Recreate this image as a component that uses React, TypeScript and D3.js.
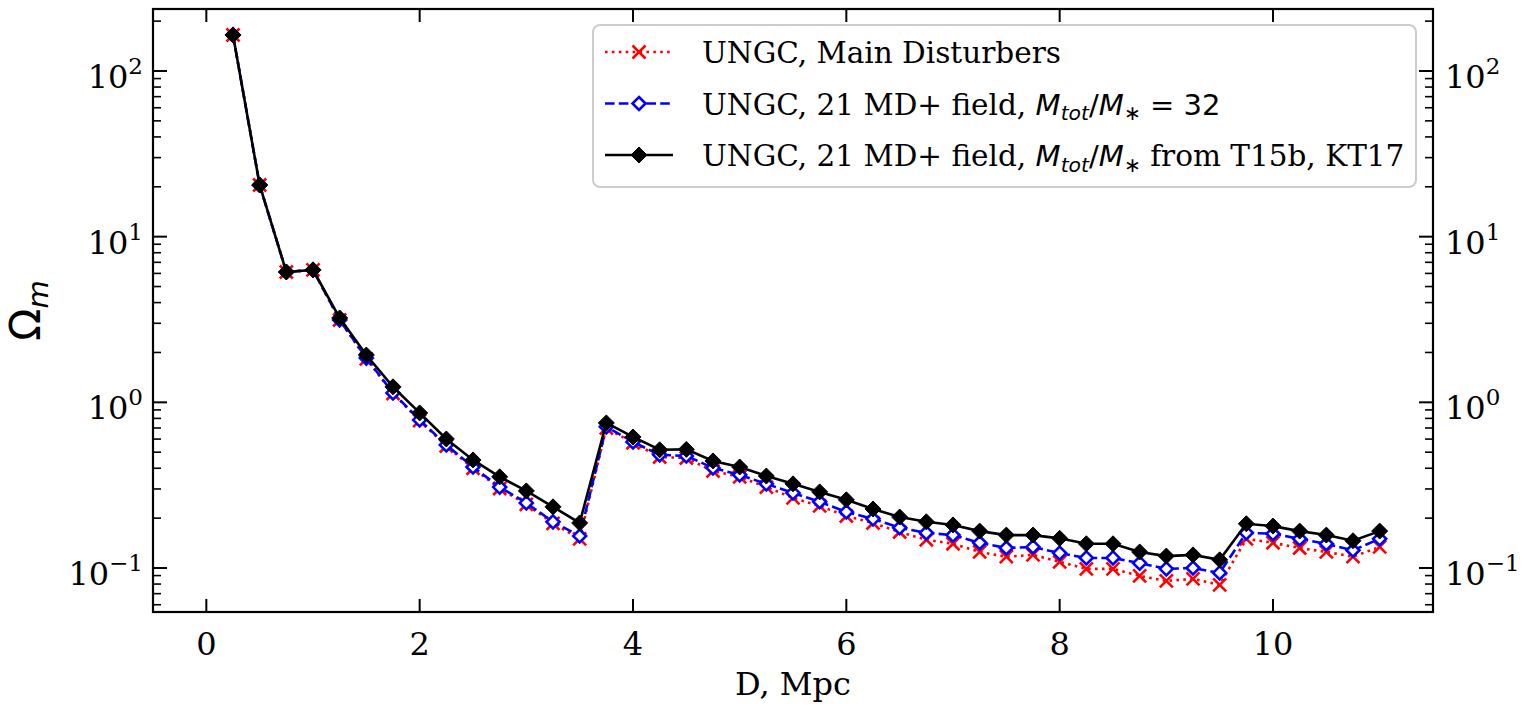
import React from "react";
import * as d3 from "d3";

const D = [0.25, 0.5, 0.75, 1, 1.25, 1.5, 1.75, 2, 2.25, 2.5, 2.75, 3, 3.25, 3.5, 3.75, 4, 4.25, 4.5, 4.75, 5, 5.25, 5.5, 5.75, 6, 6.25, 6.5, 6.75, 7, 7.25, 7.5, 7.75, 8, 8.25, 8.5, 8.75, 9, 9.25, 9.5, 9.75, 10, 10.25, 10.5, 10.75, 11];

const mainDisturbers = [165, 20.5, 6.12, 6.3, 3.14, 1.83, 1.13, 0.775, 0.545, 0.4, 0.302, 0.242, 0.186, 0.15, 0.7, 0.57, 0.468, 0.461, 0.385, 0.355, 0.308, 0.265, 0.237, 0.206, 0.187, 0.165, 0.148, 0.14, 0.125, 0.117, 0.12, 0.109, 0.0988, 0.0988, 0.0896, 0.0836, 0.0859, 0.0791, 0.15, 0.142, 0.132, 0.125, 0.117, 0.134];

const field32 = [165, 20.5, 6.12, 6.3, 3.14, 1.85, 1.14, 0.783, 0.553, 0.407, 0.308, 0.247, 0.19, 0.156, 0.711, 0.577, 0.482, 0.475, 0.402, 0.365, 0.322, 0.284, 0.251, 0.218, 0.198, 0.175, 0.163, 0.158, 0.142, 0.132, 0.134, 0.123, 0.115, 0.115, 0.107, 0.0988, 0.1, 0.0934, 0.163, 0.161, 0.15, 0.14, 0.128, 0.15];

const fieldT15b = [165, 20.5, 6.12, 6.3, 3.23, 1.93, 1.24, 0.863, 0.601, 0.449, 0.355, 0.292, 0.234, 0.187, 0.751, 0.618, 0.517, 0.52, 0.443, 0.407, 0.359, 0.322, 0.288, 0.258, 0.227, 0.203, 0.19, 0.182, 0.167, 0.158, 0.158, 0.151, 0.14, 0.14, 0.125, 0.118, 0.12, 0.112, 0.185, 0.179, 0.167, 0.158, 0.146, 0.167];

const xTicks = [0, 2, 4, 6, 8, 10];
const yTicks = [0.1, 1, 10, 100];
const yTickExp = ["\u22121", "0", "1", "2"];

const W = 1524;
const H = 717;
const L = 153, R = 1433, T = 9, B = 612;

const SERIF = "'DejaVu Serif', serif";
const SANS = "'DejaVu Sans', sans-serif";

function xMarker(cx: number, cy: number, s: number, color: string) {
  return (
    <path d={`M${cx - s},${cy - s}L${cx + s},${cy + s}M${cx - s},${cy + s}L${cx + s},${cy - s}`} stroke={color} strokeWidth={2.6} fill="none" />
  );
}
function diamond(cx: number, cy: number, s: number, fill: string, stroke: string, sw: number) {
  return <path d={`M${cx},${cy - s}L${cx + s},${cy}L${cx},${cy + s}L${cx - s},${cy}Z`} fill={fill} stroke={stroke} strokeWidth={sw} />;
}

function MathMM({ size }: { size: number }) {
  const sub = size * 0.7;
  const dy = size * 0.2;
  return (
    <>
      <tspan fontFamily={SANS} fontStyle="italic" fontSize={size}>M</tspan>
      <tspan fontFamily={SANS} fontStyle="italic" fontSize={sub} dy={dy}>tot</tspan>
      <tspan fontFamily={SANS} fontSize={size} dy={-dy}>/</tspan>
      <tspan fontFamily={SANS} fontStyle="italic" fontSize={size}>M</tspan>
      <tspan fontFamily={SANS} fontSize={sub} dy={dy}>{"\u2217"}</tspan>
    </>
  );
}

export default function App() {
  const x = d3.scaleLinear().domain([-0.5, 11.5]).range([L, R]);
  const y = d3.scaleLog().domain([0.05425, 236.7]).range([B, T]);

  const line = d3.line<number>().x((_, i) => x(D[i])).y((v) => y(v));

  const minor: number[] = [];
  for (let e = -2; e <= 2; e++) {
    for (let m = 2; m <= 9; m++) {
      const v = m * Math.pow(10, e);
      if (v > 0.05425 && v < 236.7) minor.push(v);
    }
  }

  const legX = 593, legY = 25, legW = 823, legH = 162;
  const rows = [52, 103.5, 155];
  const hx0 = 605, hx1 = 673, hm = 639, tx = 702;
  const fs = 29.5;

  return (
    <svg width={W} height={H} style={{ position: "absolute", left: 0, top: 0, display: "block", background: "#fff" }}>
      <rect x={0} y={0} width={W} height={H} fill="#fff" />
      {/* series */}
      <path d={line(mainDisturbers) || ""} fill="none" stroke="#ff0000" strokeWidth={2.6} strokeDasharray="2.6,4.3" />
      {mainDisturbers.map((v, i) => <g key={"r" + i}>{xMarker(x(D[i]), y(v), 6.5, "#ff0000")}</g>)}
      <path d={line(field32) || ""} fill="none" stroke="#0000ff" strokeWidth={2.6} strokeDasharray="9.6,4.2" />
      {field32.map((v, i) => <g key={"b" + i}>{diamond(x(D[i]), y(v), 6.5, "#ffffff", "#0000ff", 2.6)}</g>)}
      <path d={line(fieldT15b) || ""} fill="none" stroke="#000" strokeWidth={2.6} />
      {fieldT15b.map((v, i) => <g key={"k" + i}>{diamond(x(D[i]), y(v), 8, "#000", "#000", 1)}</g>)}

      {/* ticks */}
      {xTicks.map((t) => (
        <g key={"xt" + t}>
          <line x1={x(t)} x2={x(t)} y1={B} y2={B - 13} stroke="#000" strokeWidth={2} />
          <line x1={x(t)} x2={x(t)} y1={T} y2={T + 13} stroke="#000" strokeWidth={2} />
          <text x={x(t)} y={655} textAnchor="middle" fontFamily={SERIF} fontSize={32}>{t}</text>
        </g>
      ))}
      {yTicks.map((t, i) => (
        <g key={"yt" + t}>
          <line x1={L} x2={L + 14} y1={y(t)} y2={y(t)} stroke="#000" strokeWidth={2} />
          <line x1={R} x2={R - 14} y1={y(t)} y2={y(t)} stroke="#000" strokeWidth={2} />
          <text x={143} y={y(t) + 17} textAnchor="end" fontFamily={SERIF} fontSize={32}>
            10<tspan fontSize={23} dy={-14}>{yTickExp[i]}</tspan>
          </text>
          <text x={1445} y={y(t) + 17} textAnchor="start" fontFamily={SERIF} fontSize={32}>
            10<tspan fontSize={23} dy={-14}>{yTickExp[i]}</tspan>
          </text>
        </g>
      ))}
      {minor.map((t) => (
        <g key={"ym" + t}>
          <line x1={L} x2={L + 8} y1={y(t)} y2={y(t)} stroke="#000" strokeWidth={1.6} />
          <line x1={R} x2={R - 8} y1={y(t)} y2={y(t)} stroke="#000" strokeWidth={1.6} />
        </g>
      ))}

      {/* frame */}
      <rect x={L} y={T} width={R - L} height={B - T} fill="none" stroke="#000" strokeWidth={2.2} />

      {/* axis labels */}
      <text x={(L + R) / 2} y={695} textAnchor="middle" fontFamily={SERIF} fontSize={32}>D, Mpc</text>
      <text transform={`translate(40,${(T + B) / 2}) rotate(-90)`} textAnchor="middle" fontFamily={SANS} fontSize={42}>
        {"\u03A9"}<tspan fontStyle="italic" fontSize={29} dy={8}>m</tspan>
      </text>

      {/* legend */}
      <rect x={legX} y={legY} width={legW} height={legH} rx={7} fill="#fff" fillOpacity={0.8} stroke="#cccccc" strokeWidth={2} />
      <line x1={hx0} x2={hx1} y1={rows[0]} y2={rows[0]} stroke="#ff0000" strokeWidth={2.6} strokeDasharray="2.6,4.3" />
      {xMarker(hm, rows[0], 6.5, "#ff0000")}
      <line x1={hx0} x2={hx1} y1={rows[1]} y2={rows[1]} stroke="#0000ff" strokeWidth={2.6} strokeDasharray="9.6,4.2" />
      {diamond(hm, rows[1], 6.5, "#fff", "#0000ff", 2.6)}
      <line x1={hx0} x2={hx1} y1={rows[2]} y2={rows[2]} stroke="#000" strokeWidth={2.6} />
      {diamond(hm, rows[2], 8, "#000", "#000", 1)}

      <text x={tx} y={rows[0] + 11} fontFamily={SERIF} fontSize={fs}>UNGC, Main Disturbers</text>
      <text x={tx} y={rows[1] + 11} fontFamily={SERIF} fontSize={fs}>
        UNGC, 21 MD+ field, <MathMM size={29} />
        <tspan fontFamily={SANS} fontSize={29} dy={-29 * 0.2}>{" = 32"}</tspan>
      </text>
      <text x={tx} y={rows[2] + 11} fontFamily={SERIF} fontSize={fs}>
        UNGC, 21 MD+ field, <MathMM size={29} />
        <tspan fontFamily={SERIF} fontSize={fs} dy={-29 * 0.2}>{" from T15b, KT17"}</tspan>
      </text>
    </svg>
  );
}
